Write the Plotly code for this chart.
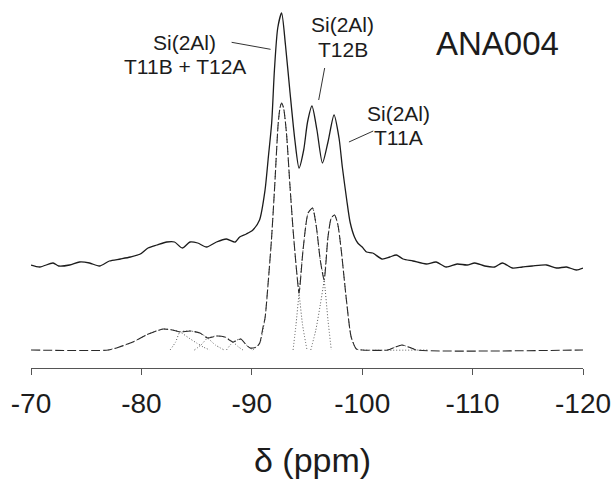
import plotly.graph_objects as go

# ---------------- data ----------------
# experimental spectrum (offset upward), intensity in arbitrary units
exp_ppm = [-70.0, -70.8, -72.0, -72.5, -73.5, -74.4, -75.3, -76.2, -77.1, -78.1, -79.0, -79.9,
           -80.6, -81.4, -82.3, -83.0, -83.7, -84.4, -85.1, -85.9, -86.8, -87.7, -88.5, -88.9,
           -89.5, -90.1, -90.7, -91.2, -91.5, -91.8, -92.05, -92.35, -92.7, -93.05, -93.44,
           -93.9, -94.28, -94.7, -95.05, -95.45, -95.9, -96.4, -96.9, -97.45, -97.9, -98.2,
           -98.6, -98.9, -99.3, -99.6, -100.0, -100.4, -100.95, -101.8, -102.5, -103.1,
           -103.7, -104.6, -105.8, -106.7, -107.6, -108.6, -109.5, -110.2, -111.1, -112.0,
           -112.7, -113.6, -114.5, -115.4, -116.7, -117.6, -118.5, -119.4, -120.0]
exp_int = [85, 83, 87, 84, 85, 88, 87, 84, 89, 91, 93, 96,
           102, 105, 108, 108, 102, 108, 107, 103, 108, 111, 108, 113,
           116, 120, 130, 160, 193, 227, 280, 322, 337, 305, 260,
           210, 182, 200, 228, 244, 220, 187, 208, 235, 212, 183,
           150, 128, 113, 107, 103, 98, 97, 91, 93, 95,
           91, 89, 86, 88, 83, 86, 85, 87, 84, 83,
           87, 82, 83, 84, 85, 82, 83, 80, 82]

# fitted envelope (dashed)
fit_ppm = [-70.0, -77.0, -78.0, -79.23, -80.44, -81.35, -82.0, -82.8, -83.5, -84.4, -85.3,
           -86.0, -86.8, -87.55, -88.3, -89.0, -89.5, -89.85, -90.12, -90.43, -90.72, -91.0,
           -91.2, -91.48, -91.78, -92.08, -92.38, -92.55, -92.7, -92.88, -93.14, -93.44,
           -93.74, -94.05, -94.28, -94.64, -95.1, -95.5, -95.85, -96.2, -96.55, -96.9, -97.2,
           -97.5, -97.8, -98.1, -98.57, -99.0, -99.47, -100.0, -102.3, -103.0, -103.6, -104.2,
           -104.9, -120.0]
fit_int = [0, 0, 3, 8, 15, 19, 21, 20, 18, 19, 17,
           12, 14, 13, 8, 11, 5, 2, 2, 3, 7, 22,
           32, 67, 110, 165, 225, 242, 247, 242, 217, 167,
           120, 80, 57, 100, 137, 142, 123, 90, 70, 113, 132,
           135, 125, 100, 50, 13, 1, 0, 0, 3, 5, 3,
           0, 0]

# individual components (dotted)
compA_ppm = [-77.0, -78.0, -79.23, -80.44, -81.35, -82.0, -82.8, -83.5, -84.3, -85.0, -85.6, -86.2]
compA_int = [0, 3, 8, 15, 19, 21, 20, 18, 12, 7, 3, 0]
compB_ppm = [-82.6, -83.1, -83.5, -84.4, -85.3, -86.0, -86.7, -87.5]
compB_int = [0, 8, 18, 19, 17, 12, 5, 0]
compC_ppm = [-84.8, -85.4, -86.0, -86.8, -87.55, -88.3, -88.8, -89.2]
compC_int = [0, 5, 12, 14, 13, 8, 3, 0]
compD_ppm = [-87.7, -88.3, -89.0, -89.5, -89.85, -90.1]
compD_int = [0, 8, 11, 5, 2, 0]
compE_ppm = [-90.1, -90.72, -91.2, -91.48, -91.78, -92.08, -92.38, -92.55, -92.7, -92.88,
             -93.14, -93.44, -93.74, -94.05, -94.28, -94.6, -95.0]
compE_int = [0, 7, 32, 67, 110, 165, 225, 242, 247, 242, 217, 167, 120, 80, 57, 25, 0]
compF_ppm = [-93.74, -94.0, -94.28, -94.64, -95.1, -95.5, -95.85, -96.2, -96.55, -96.9, -97.2]
compF_int = [0, 25, 57, 100, 137, 142, 123, 90, 70, 30, 0]
compG_ppm = [-95.34, -95.8, -96.2, -96.55, -96.9, -97.2, -97.5, -97.8, -98.1, -98.57, -99.0,
             -99.47, -100.0, -106.0]
compG_int = [0, 20, 45, 70, 113, 132, 135, 125, 100, 50, 13, 1, 0, 0]
compH_ppm = [-102.3, -103.0, -103.6, -104.2, -104.9]
compH_int = [0, 3, 5, 3, 0]

x_ticks = [-70, -80, -90, -100, -110, -120]
x_tick_labels = ["-70", "-80", "-90", "-100", "-110", "-120"]

FONT = "Arial, Liberation Sans, Helvetica, sans-serif"
INK = "#1c1c1c"

fig = go.Figure()

dot_style = dict(color="#555555", width=1, dash="1px,2px")
for px_, py_ in [(compA_ppm, compA_int), (compB_ppm, compB_int), (compC_ppm, compC_int),
                 (compD_ppm, compD_int), (compE_ppm, compE_int), (compF_ppm, compF_int),
                 (compG_ppm, compG_int), (compH_ppm, compH_int)]:
    fig.add_trace(go.Scatter(x=px_, y=py_, mode="lines",
                             line=dict(shape="spline", smoothing=0.6, **dot_style),
                             hoverinfo="skip", showlegend=False))

fig.add_trace(go.Scatter(x=fit_ppm, y=fit_int, mode="lines",
                         line=dict(color="#2a2a2a", width=1.1, dash="9px,3px",
                                   shape="spline", smoothing=0.6),
                         showlegend=False))

fig.add_trace(go.Scatter(x=exp_ppm, y=exp_int, mode="lines",
                         line=dict(color=INK, width=1.3, shape="spline", smoothing=0.7),
                         showlegend=False))

# labels with leader lines
labels = [
    ("Si(2Al)", -83.94, 308), ("T11B + T12A", -83.94, 284),
    ("Si(2Al)", -98.24, 326), ("T12B", -98.24, 301),
    ("Si(2Al)", -103.3, 237), ("T11A", -103.3, 213),
]
for txt, lx, ly in labels:
    fig.add_annotation(x=lx, y=ly, xref="x", yref="y", text=txt, showarrow=False,
                       xanchor="center", yanchor="middle",
                       font=dict(family=FONT, size=21, color=INK))

leaders = [((-88.17, 307.7), (-91.7, 300.7)),
           ((-96.6, 282), (-96.06, 250)),
           ((-98.8, 208), (-101.0, 219))]
for (x0, y0), (x1, y1) in leaders:
    fig.add_shape(type="line", xref="x", yref="y", x0=x0, y0=y0, x1=x1, y1=y1,
                  line=dict(color="#333333", width=1))

fig.add_annotation(x=-112.26, y=307, xref="x", yref="y", text="ANA004", showarrow=False,
                   xanchor="center", yanchor="middle",
                   font=dict(family=FONT, size=33, color=INK))

fig.add_annotation(x=0.51, y=-0.25, xref="paper", yref="paper", text="δ (ppm)",
                   showarrow=False, xanchor="center", yanchor="middle",
                   font=dict(family=FONT, size=34, color=INK))

fig.update_layout(
    width=616, height=479, autosize=False,
    margin=dict(l=31, r=33, t=0, b=111),
    paper_bgcolor="white", plot_bgcolor="white",
    xaxis=dict(range=[-70, -120], tickmode="array", tickvals=x_ticks, ticktext=x_tick_labels,
               showgrid=False, zeroline=False, showline=True, linecolor="#555555", linewidth=1,
               ticks="outside", ticklen=6, tickcolor="#555555", tickwidth=1,
               ticklabelstandoff=4,
               tickfont=dict(family=FONT, size=28, color=INK), automargin=False),
    yaxis=dict(range=[-18, 350], visible=False, showgrid=False, zeroline=False),
)

fig.write_html("out.html", config={"displayModeBar": False},
               post_script="document.body.style.margin='0';document.body.style.padding='0';"
                           "document.documentElement.style.overflow='hidden';")
